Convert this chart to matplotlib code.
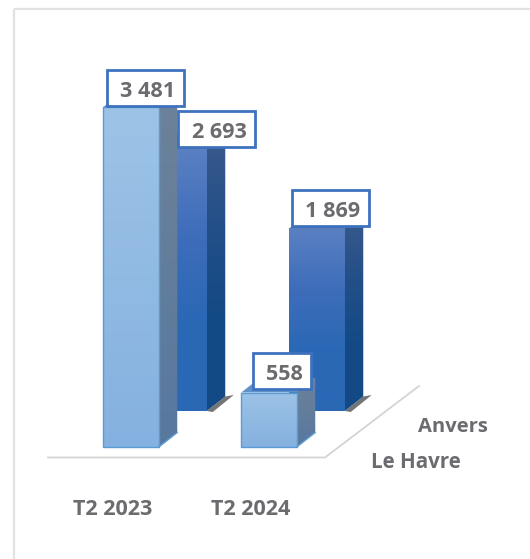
import numpy as np
import matplotlib
matplotlib.use("Agg")
import matplotlib.pyplot as plt
from matplotlib.patches import Polygon, Rectangle
from matplotlib.colors import LinearSegmentedColormap

periods = ["T2 2023", "T2 2024"]
ports = ["Le Havre", "Anvers"]
le_havre = [3481, 558]
anvers = [2693, 1869]
label_text = {"Le Havre": ["3 481", "558"], "Anvers": ["2 693", "1 869"]}

W, H = 530, 559
PXU = 0.09767          # pixels per value unit
XU = 138.0             # pixels per category
BASE_Y = 447.0
CAT0_X = 131.0

fig = plt.figure(figsize=(W / 100, H / 100), dpi=100)
ax = fig.add_axes([0, 0, 1, 1])
ax.set_xlim(-CAT0_X / XU, (W - CAT0_X) / XU)
ax.set_ylim((BASE_Y - H) / PXU, BASE_Y / PXU)
ax.axis("off")

dx_px = lambda p: p / XU
dy_px = lambda p: p / PXU

FONT = "Open Sans"
GREY = "#6B6B70"

# chart frame (left and top edges only)
for xs, ys in [([14, 14], [559, 9]), ([14, 530], [9, 9])]:
    ax.plot([(x - CAT0_X) / XU for x in xs], [(BASE_Y - y) / PXU for y in ys],
            color="#E2E2E2", lw=1.6, solid_capstyle="butt", zorder=1)

# floor lines
fx = [(x - CAT0_X) / XU for x in (48, 325, 419)]
fy = [(BASE_Y - y) / PXU for y in (457.5, 457.5, 386)]
ax.plot(fx, fy, color="#D4D4D4", lw=1.3, zorder=1)


def grad(colors, extent, clip, z):
    cmap = LinearSegmentedColormap.from_list("g", colors)
    im = ax.imshow(np.linspace(0, 1, 256).reshape(-1, 1), cmap=cmap, extent=extent,
                   origin="upper", aspect="auto", zorder=z, interpolation="bilinear")
    im.set_clip_path(clip)


def bar3d(xc, value, shift_x, shift_y, face, side, top, edge, z, shadow=False):
    w = dx_px(55.5)
    dx, dy = dx_px(18.5), dy_px(14.5)
    x0 = xc - w / 2 + dx_px(shift_x)
    x1 = x0 + w
    y0 = dy_px(shift_y)
    y1 = y0 + value
    if shadow:
        ax.add_patch(Polygon([(x1, y0), (x1 + dx, y0 + dy), (x1 + dx_px(27), y0 + dy_px(16)),
                              (x1 + dx_px(6), y0 - dy_px(1))], closed=True, fc="#3A3A3A",
                             ec="none", alpha=0.7, zorder=z - 0.5))
    t = Polygon([(x0, y1), (x0 + dx, y1 + dy), (x1 + dx, y1 + dy), (x1, y1)], closed=True,
                fc=top, ec="none", zorder=z)
    ax.add_patch(t)
    s = Polygon([(x1, y0), (x1 + dx, y0 + dy), (x1 + dx, y1 + dy), (x1, y1)], closed=True,
                fc="none", ec="none", zorder=z)
    ax.add_patch(s)
    grad(side, (x1, x1 + dx, y0, y1 + dy), s, z)
    r = Rectangle((x0, y0), w, value, fc="none", ec="none", zorder=z)
    ax.add_patch(r)
    grad(face, (x0, x1, y0, y1), r, z + 0.1)
    if edge:
        ax.add_patch(Rectangle((x0, y0), w, value, fc="none", ec=edge, lw=1.0, zorder=z + 0.2))
        ax.plot([x1, x1 + dx], [y0, y0 + dy], color=edge, lw=1, zorder=z + 0.2)
    return x0, y1


LIGHT = (["#9DC3E6", "#85B1E0"], ["#6D8299", "#58789F"], "#5F93C8", "#5B9BD5")
DARK = (["#5A80C2", "#3E6DBA", "#2A68B5", "#2A68B5"],
        ["#3A5A8C", "#234F88", "#134A85", "#134A85"], "#3A5A8C", None)

for i, v in enumerate(anvers):
    bar3d(i, v, 48, 36, DARK[0], DARK[1], DARK[2], DARK[3], 3 + i, shadow=True)
for i, v in enumerate(le_havre):
    bar3d(i, v, 0, 0, LIGHT[0], LIGHT[1], LIGHT[2], LIGHT[3], 6)


def value_label(xc, value, shift_x, shift_y, text, w_px, z, off_y=0):
    x = xc + dx_px(shift_x)
    y = dy_px(shift_y) + value + dy_px(off_y)
    ax.add_patch(Rectangle((x - dx_px(w_px / 2), y - dy_px(18)), dx_px(w_px), dy_px(36),
                           fc="white", ec="#3E72BE", lw=2, zorder=z))
    ax.text(x + dx_px(2.5), y - dy_px(3.5), text, ha="center", va="center", family=FONT,
            weight="bold", size=15.6, color=GREY, zorder=z + 0.1)


# (label centre relative to the bar's front-face centre, in pixels)
value_label(0, anvers[0], 85.5, 36, label_text["Anvers"][0], 77, 8, off_y=19)
value_label(1, anvers[1], 61.5, 36, label_text["Anvers"][1], 77, 8, off_y=20)
value_label(0, le_havre[0], 14.5, 0, label_text["Le Havre"][0], 77, 9, off_y=19.5)
value_label(1, le_havre[1], 13, 0, label_text["Le Havre"][1], 58, 9, off_y=21.5)

for i, p in enumerate(periods):
    ax.text(i - dx_px(18.5), dy_px(-62.5), p, ha="center", va="center", family=FONT,
            weight="bold", size=15.5, color=GREY, zorder=10)
ax.text((415.5 - CAT0_X) / XU, (BASE_Y - 462) / PXU, ports[0], ha="center", va="center",
        family=FONT, weight="bold", size=14.8, color=GREY, zorder=10)
ax.text((452.5 - CAT0_X) / XU, (BASE_Y - 426.5) / PXU, ports[1], ha="center", va="center",
        family=FONT, weight="bold", size=14.5, color=GREY, zorder=10)

ax.set_xlim(-CAT0_X / XU, (W - CAT0_X) / XU)
ax.set_ylim((BASE_Y - H) / PXU, BASE_Y / PXU)
fig.savefig("out.png", dpi=100, facecolor="white")
